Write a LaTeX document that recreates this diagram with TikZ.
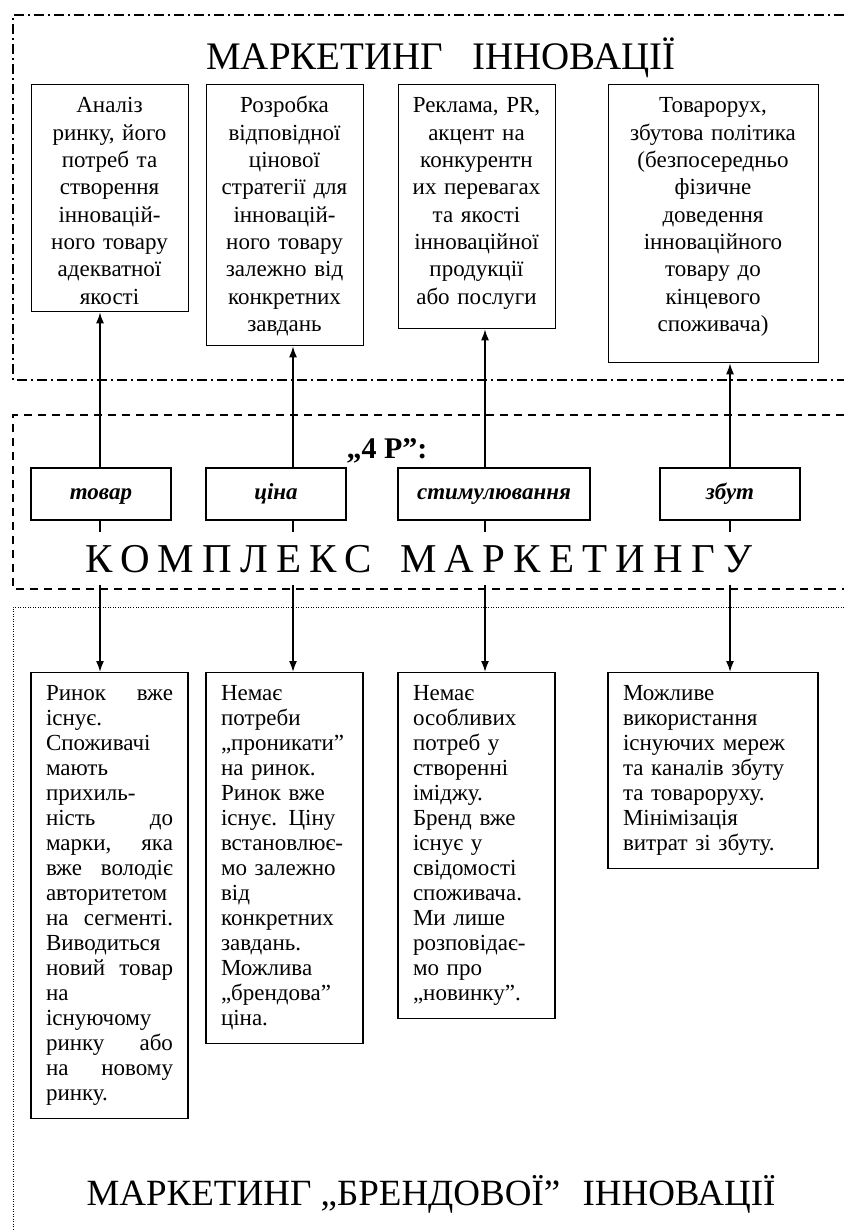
\documentclass[tikz,border=0pt]{standalone}
\usepackage{fontspec}
\setmainfont{Liberation Serif}
\usetikzlibrary{arrows.meta}
\newcommand{\jst}[2]{\makebox[127pt]{#1\hfill#2}}
\begin{document}
\begin{tikzpicture}[x=1pt,y=-1pt,
  box/.style={draw,line width=1.3pt,inner sep=0pt,anchor=north west},
  toptxt/.style={align=center,text width=#1,inner sep=0pt,anchor=base,font=\fontsize{23}{27.3}\selectfont},
  lowbox/.style={draw,line width=1.3pt,align=left,text width=#1,inner xsep=15pt,inner ysep=13pt,anchor=north,font=\fontsize{23}{25}\selectfont},
  pbox/.style={draw,line width=1.3pt,minimum height=52pt,text height=15pt,text depth=5pt,font=\fontsize{23}{25}\selectfont\bfseries\itshape},
  arr/.style={-{Latex[length=11pt,width=8pt]},line width=1.6pt}]
\useasboundingbox (0,0) rectangle (844,1230);
\draw[line width=1.2pt,dash pattern=on 10pt off 4pt on 2pt off 4pt] (844,15) -- (13,15) -- (13,380) -- (844,380);
\draw[line width=1.2pt,dash pattern=on 8pt off 6pt] (844,415) -- (13,415) -- (13,589) -- (844,589);
\draw[line width=1pt,dash pattern=on 1pt off 1.5pt] (844,607) -- (13,607) -- (13,1230);
\node[font=\fontsize{39}{40}\selectfont,anchor=base] (ttl) at (441,70) {МАРКЕТИНГ\hspace{0.75em}ІННОВАЦІЇ};
\node[box,minimum width=157pt,minimum height=227pt] (t1) at (31,84) {};
\node[box,minimum width=157pt,minimum height=261pt] (t2) at (206,84) {};
\node[box,minimum width=157pt,minimum height=244pt] (t3) at (398,84) {};
\node[box,minimum width=210pt,minimum height=278pt] (t4) at (608,84) {};
\node[toptxt=150pt] (t1txt) at (109.5,113) {Аналіз\\ ринку, його\\ потреб та\\ створення\\ інновацій-\\ ного товару\\ адекватної\\ якості};
\node[toptxt=150pt] (t2txt) at (284.5,113) {Розробка\\ відповідної\\ цінової\\ стратегії для\\ інновацій-\\ ного товару\\ залежно від\\ конкретних\\ завдань};
\node[toptxt=150pt] (t3txt) at (476.5,113) {Реклама, PR,\\ акцент на\\ конкурентн\\ их перевагах\\ та якості\\ інноваційної\\ продукції\\ або послуги};
\node[toptxt=200pt] (t4txt) at (713,113) {Товарорух,\\ збутова політика\\ (безпосередньо\\ фізичне\\ доведення\\ інноваційного\\ товару до\\ кінцевого\\ споживача)};
\node[font=\fontsize{30}{30}\selectfont\bfseries,anchor=base west] (fourp) at (343,458) {„4 P”:};
\node[pbox,minimum width=140pt] (p1) at (101,494) {товар};
\node[pbox,minimum width=140pt] (p2) at (276,494) {ціна};
\node[pbox,minimum width=192pt] (p3) at (494,494) {стимулювання};
\node[pbox,minimum width=140pt] (p4) at (730,494) {збут};
\node[lowbox=127pt] (b1) at (109.5,672) {\jst{Ринок}{вже}\\ існує.\\ Споживачі\\ мають\\ прихиль-\\ \jst{ність}{до}\\ \jst{марки,}{яка}\\ \jst{вже}{володіє}\\ авторитетом\\ \jst{на}{сегменті.}\\ Виводиться\\ \jst{новий}{товар}\\ на\\ існуючому\\ \jst{ринку}{або}\\ \jst{на}{новому}\\ ринку.};
\node[lowbox=127pt] (b2) at (284.5,672) {Немає\\ потреби\\ „проникати”\\ на ринок.\\ Ринок вже\\ існує. Ціну\\ встановлює-\\ мо залежно\\ від\\ конкретних\\ завдань.\\ Можлива\\ „брендова”\\ ціна.};
\node[lowbox=127pt] (b3) at (476.5,672) {Немає\\ особливих\\ потреб у\\ створенні\\ іміджу.\\ Бренд вже\\ існує у\\ свідомості\\ споживача.\\ Ми лише\\ розповідає-\\ мо про\\ „новинку”.};
\node[lowbox=180pt] (b4) at (713,672) {Можливе\\ використання\\ існуючих мереж\\ та каналів збуту\\ та товароруху.\\ Мінімізація\\ витрат зі збуту.};
\coordinate (c1) at (100,0);
\coordinate (c2) at (293,0);
\coordinate (c3) at (485,0);
\coordinate (c4) at (730,0);
\draw[arr] (p1.north -| c1) -- (t1.south -| c1);
\draw[arr] (p2.north -| c2) -- (t2.south -| c2);
\draw[arr] (p3.north -| c3) -- (t3.south -| c3);
\draw[arr] (p4.north -| c4) -- (t4.south -| c4);
\draw[arr] (p1.south -| c1) -- (b1.north -| c1);
\draw[arr] (p2.south -| c2) -- (b2.north -| c2);
\draw[arr] (p3.south -| c3) -- (b3.north -| c3);
\draw[arr] (p4.south -| c4) -- (b4.north -| c4);
\node[fill=white,inner xsep=2pt,inner ysep=13pt,anchor=base,font=\fontsize{41}{41}\selectfont\addfontfeature{LetterSpace=20}] (kmpl) at (419,572) {КОМПЛЕКС\hspace{0.7em}МАРКЕТИНГУ};
\node[font=\fontsize{37}{40}\selectfont,anchor=base] (ttlb) at (431,1205) {МАРКЕТИНГ „БРЕНДОВОЇ”\hspace{0.6em}ІННОВАЦІЇ};
\end{tikzpicture}
\end{document}
